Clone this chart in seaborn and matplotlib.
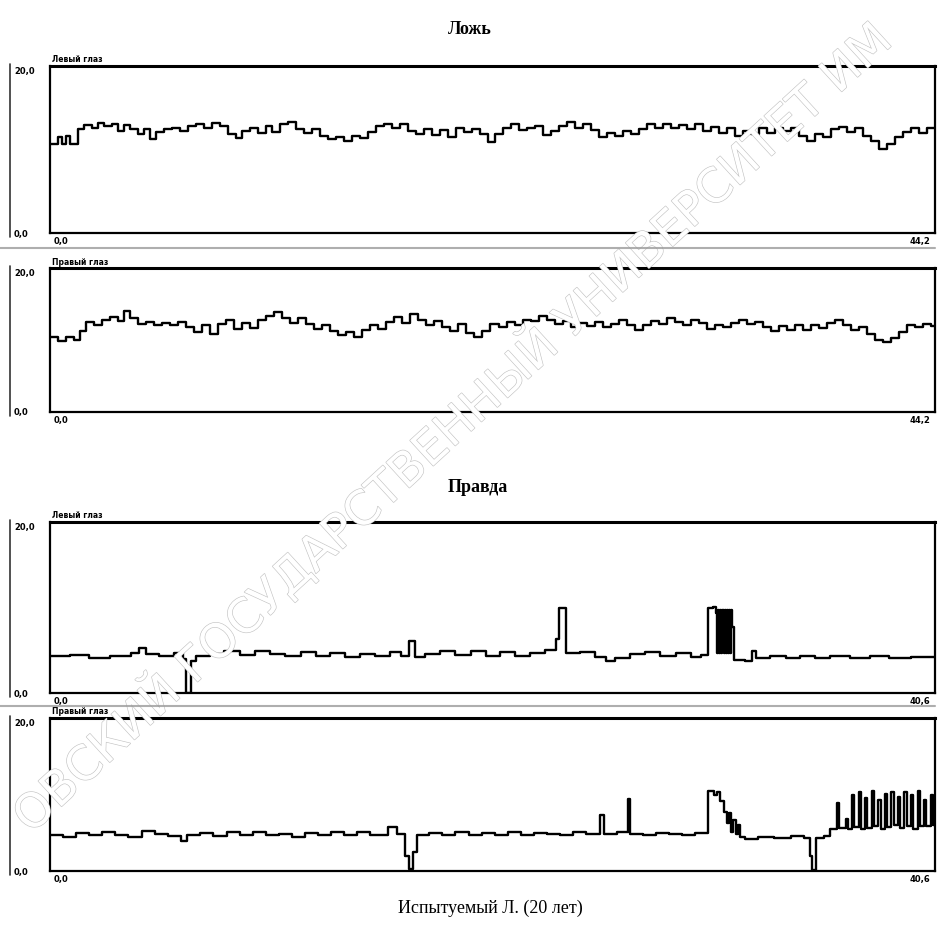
import numpy as np
import pandas as pd
import matplotlib
matplotlib.use("Agg")
import matplotlib.pyplot as plt
import matplotlib.patheffects as pe
from matplotlib.lines import Line2D
import seaborn as sns

sns.set_theme(style="white")
plt.rcParams['font.family'] = ['DejaVu Sans']
plt.rcParams['text.color'] = 'black'
plt.rcParams['ytick.color'] = 'black'
plt.rcParams['ytick.labelcolor'] = 'black'

# ---------------- data ----------------
lie_left_t = [0.0, 0.4, 0.6, 0.8, 1.0, 1.4, 1.7, 2.1, 2.4, 2.7, 3.1, 3.4, 3.7, 4.0, 4.4, 4.7, 5.0, 5.3, 5.7, 6.1,
              6.5, 6.9, 7.3, 7.7, 8.1, 8.5, 8.9, 9.3, 9.6, 10.0, 10.4, 10.8, 11.1, 11.5, 11.9, 12.3, 12.7, 13.1,
              13.5, 13.9, 14.3, 14.7, 15.1, 15.5, 15.9, 16.3, 16.7, 17.1, 17.5, 17.9, 18.3, 18.7, 19.1, 19.5,
              19.9, 20.3, 20.7, 21.1, 21.5, 21.9, 22.2, 22.6, 23.0, 23.4, 23.8, 24.2, 24.6, 25.0, 25.4, 25.8,
              26.2, 26.6, 27.0, 27.4, 27.8, 28.2, 28.6, 29.0, 29.4, 29.8, 30.2, 30.6, 31.0, 31.4, 31.8, 32.2,
              32.6, 33.0, 33.4, 33.8, 34.2, 34.6, 35.0, 35.4, 35.8, 36.2, 36.6, 37.0, 37.4, 37.8, 38.2, 38.6,
              39.0, 39.4, 39.8, 40.2, 40.6, 41.0, 41.4, 41.8, 42.2, 42.6, 43.0, 43.4, 43.8, 44.2]
lie_left_v = [11.0, 11.8, 11.0, 12.0, 11.0, 12.8, 13.3, 13.0, 13.6, 13.2, 13.5, 12.6, 13.3, 12.8, 12.2, 12.8, 11.6,
              12.4, 12.8, 13.0, 12.6, 13.2, 13.4, 13.0, 13.6, 13.2, 12.2, 11.7, 12.6, 12.9, 12.3, 13.2, 12.5,
              13.4, 13.7, 12.8, 12.3, 12.8, 12.0, 11.6, 11.9, 11.4, 12.0, 11.7, 12.4, 13.2, 13.5, 12.9, 13.4,
              12.6, 12.2, 12.8, 12.1, 12.7, 11.8, 12.9, 12.4, 12.8, 12.2, 11.2, 12.2, 13.0, 13.4, 12.7, 12.9,
              13.2, 12.1, 12.6, 13.2, 13.7, 12.9, 13.5, 12.7, 11.8, 12.3, 12.0, 12.6, 12.2, 12.8, 13.4, 12.9,
              13.5, 13.0, 13.3, 12.8, 13.4, 12.6, 13.1, 12.3, 12.9, 12.0, 12.6, 12.2, 12.9, 12.3, 13.0, 12.6,
              12.9, 12.0, 11.4, 12.2, 11.8, 12.8, 13.1, 12.4, 12.9, 12.0, 11.4, 10.4, 11.0, 11.8, 12.5, 13.0,
              12.3, 13.0, 13.0]

lie_right_t = [0.0, 0.4, 0.8, 1.2, 1.5, 1.8, 2.2, 2.6, 3.0, 3.4, 3.7, 4.0, 4.4, 4.8, 5.2, 5.6, 6.0, 6.4, 6.8,
               7.2, 7.6, 8.0, 8.4, 8.8, 9.2, 9.6, 10.0, 10.4, 10.8, 11.2, 11.6, 12.0, 12.4, 12.8, 13.2, 13.6,
               14.0, 14.4, 14.8, 15.2, 15.6, 16.0, 16.4, 16.8, 17.2, 17.6, 18.0, 18.4, 18.8, 19.2, 19.6, 20.0,
               20.4, 20.8, 21.2, 21.6, 22.0, 22.4, 22.8, 23.2, 23.6, 24.0, 24.4, 24.8, 25.2, 25.6, 26.0, 26.4,
               26.8, 27.2, 27.6, 28.0, 28.4, 28.8, 29.2, 29.6, 30.0, 30.4, 30.8, 31.2, 31.6, 32.0, 32.4, 32.8,
               33.2, 33.6, 34.0, 34.4, 34.8, 35.2, 35.6, 36.0, 36.4, 36.8, 37.2, 37.6, 38.0, 38.4, 38.8, 39.2,
               39.6, 40.0, 40.4, 40.8, 41.2, 41.6, 42.0, 42.4, 42.8, 43.2, 43.6, 44.0, 44.2]
lie_right_v = [10.7, 10.2, 10.8, 10.3, 11.6, 12.9, 12.5, 13.2, 13.6, 13.0, 14.5, 13.4, 12.6, 12.9, 12.4, 12.8,
               12.5, 12.9, 12.2, 11.5, 12.4, 11.2, 12.6, 13.1, 11.9, 12.7, 12.0, 13.2, 13.8, 14.3, 13.5, 12.8,
               13.4, 12.6, 11.9, 12.4, 11.6, 11.0, 11.5, 10.8, 11.8, 12.5, 11.9, 12.9, 13.6, 12.8, 14.0, 13.2,
               12.4, 13.0, 12.2, 11.6, 12.6, 11.3, 10.8, 11.6, 12.6, 12.1, 12.9, 12.4, 13.2, 13.0, 13.8, 13.2,
               12.6, 13.0, 12.1, 12.8, 12.3, 12.9, 12.2, 12.6, 13.2, 12.5, 11.8, 12.4, 13.0, 12.6, 13.4, 12.9,
               12.4, 13.1, 12.7, 11.9, 12.5, 12.1, 12.8, 13.2, 12.6, 12.9, 12.2, 11.6, 12.3, 11.8, 12.5, 11.7,
               12.4, 12.0, 12.8, 13.1, 12.4, 11.8, 12.2, 11.2, 10.3, 10.0, 10.6, 11.5, 12.4, 12.1, 12.6, 12.3,
               12.3]

truth_left_t = [0.0, 0.9, 1.8, 2.75, 3.7, 4.1, 4.4, 5.0, 5.7, 6.1, 6.25, 6.45, 6.7, 7.35, 8.0, 8.7, 9.4,
                10.1, 10.8, 11.5, 12.2, 12.85, 13.55, 14.2, 14.9, 15.6, 16.1, 16.45, 16.75, 17.2, 17.9, 18.6,
                19.3, 20.0, 20.65, 21.35, 22.0, 22.7, 23.2, 23.35, 23.65, 24.3, 25.0, 25.5, 25.9, 26.6, 27.3,
                28.0, 28.7, 29.4, 29.85, 30.2, 30.4, 30.55, 30.6, 30.65, 30.7, 30.75, 30.8, 30.85, 30.9, 30.95,
                31.0, 31.05, 31.1, 31.15, 31.2, 31.25, 31.3, 31.4, 31.9, 32.2, 32.4, 33.05, 33.75, 34.4, 35.1,
                35.8, 36.7, 37.6, 38.5, 39.5, 40.6]
truth_left_v = [4.4, 4.6, 4.2, 4.5, 4.8, 5.4, 4.7, 4.5, 4.8, 4.1, 0.0, 3.9, 4.4, 4.7, 5.0, 4.6, 5.1, 4.7, 4.4,
                4.9, 4.5, 4.8, 4.3, 4.7, 4.5, 4.9, 4.4, 6.3, 4.3, 4.7, 5.0, 4.6, 5.0, 4.5, 4.9, 4.4, 4.8, 5.2,
                6.5, 10.2, 4.8, 4.9, 4.3, 3.9, 4.2, 4.7, 4.9, 4.4, 4.8, 4.3, 4.6, 10.2, 10.4, 9.6, 4.8, 10.0,
                4.8, 10.0, 4.8, 10.0, 4.8, 10.0, 4.8, 10.0, 4.8, 10.0, 4.8, 10.0, 8.0, 4.0, 3.9, 5.1, 4.2, 4.4,
                4.2, 4.5, 4.2, 4.5, 4.2, 4.4, 4.2, 4.3, 4.3]

truth_right_t = [0.0, 0.6, 1.2, 1.8, 2.4, 3.0, 3.6, 4.2, 4.8, 5.4, 6.0, 6.3, 6.9, 7.5, 8.1, 8.7, 9.3, 9.9,
                 10.5, 11.1, 11.7, 12.3, 12.9, 13.5, 14.1, 14.7, 15.5, 15.9, 16.3, 16.45, 16.65, 16.85, 17.4,
                 18.0, 18.6, 19.2, 19.8, 20.4, 21.0, 21.6, 22.2, 22.8, 23.4, 24.0, 24.6, 25.25, 25.4, 26.0,
                 26.5, 26.6, 27.2, 27.8, 28.4, 29.0, 29.6, 30.2, 30.45, 30.6, 30.75, 30.9, 31.05, 31.15, 31.25,
                 31.35, 31.45, 31.55, 31.65, 31.9, 32.5, 33.2, 34.0, 34.6, 34.85, 34.95, 35.15, 35.5, 35.8,
                 36.1, 36.2, 36.5, 36.6, 36.8, 36.9, 37.1, 37.2, 37.4, 37.5, 37.7, 37.8, 38.0, 38.1, 38.3,
                 38.4, 38.6, 38.7, 38.9, 39.0, 39.2, 39.3, 39.5, 39.6, 39.8, 39.9, 40.1, 40.2, 40.4, 40.5, 40.6]
truth_right_v = [4.9, 4.6, 5.1, 4.8, 5.3, 4.9, 4.6, 5.4, 5.0, 4.7, 4.0, 4.8, 5.1, 4.7, 5.2, 4.9, 5.3, 4.8,
                 5.0, 4.6, 5.1, 4.8, 5.2, 4.9, 5.3, 4.8, 5.9, 5.0, 2.0, 0.3, 2.5, 4.8, 5.1, 4.9, 5.2, 4.8, 5.1,
                 4.9, 5.2, 4.8, 5.1, 5.0, 4.9, 5.2, 5.0, 7.5, 5.0, 5.3, 9.7, 5.0, 4.9, 5.1, 5.0, 4.9, 5.1, 10.8,
                 10.2, 10.7, 9.4, 8.0, 6.5, 7.8, 5.2, 6.8, 5.0, 6.2, 4.6, 4.3, 4.6, 4.5, 4.7, 4.5, 2.0, 0.2, 4.4,
                 4.7, 5.6, 9.2, 5.8, 7.0, 5.7, 10.2, 5.9, 10.6, 5.6, 9.8, 5.8, 10.8, 6.0, 9.5, 5.7, 10.4, 5.9,
                 10.7, 6.2, 9.9, 5.8, 10.6, 6.0, 10.2, 5.7, 10.8, 6.1, 9.6, 6.0, 10.3, 6.2, 6.2]

panel_labels = ["Левый глаз", "Правый глаз", "Левый глаз", "Правый глаз"]
x_end_labels = ["44,2", "44,2", "40,6", "40,6"]
x_max = [44.2, 44.2, 40.6, 40.6]
y_tick_labels = ["0,0", "20,0"]
titles = ["Ложь", "Правда"]
caption = "Испытуемый Л. (20 лет)"

# ---------------- figure ----------------
W, H = 939, 933
fig = plt.figure(figsize=(W / 100, H / 100), dpi=100)
fig.patch.set_facecolor("white")

def fy(px):
    return 1 - px / H

def fx(px):
    return px / W

# watermark (behind everything)
wm = fig.text(fx(452), fy(428), "ОВСКИЙ ГОСУДАРСТВЕННЫЙ УНИВЕРСИТЕТ ИМ",
              fontsize=34, color="white", rotation=42.5, ha="center", va="center",
              family=["DejaVu Sans"], zorder=0)
wm.set_path_effects([pe.withStroke(linewidth=0.9, foreground="#c4c4c4")])

boxes = [(66, 233), (268, 412), (522, 693), (718, 871)]
left_px, right_px = 50, 935
series = [(lie_left_t, lie_left_v), (lie_right_t, lie_right_v),
          (truth_left_t, truth_left_v), (truth_right_t, truth_right_v)]

for i, ((top, bot), (t, v)) in enumerate(zip(boxes, series)):
    ax = fig.add_axes([fx(left_px), fy(bot), fx(right_px - left_px), (bot - top) / H])
    ax.patch.set_alpha(0.0)
    df = pd.DataFrame({"t": t, "v": v})
    sns.lineplot(data=df, x="t", y="v", ax=ax, color="black", linewidth=1.7,
                 drawstyle="steps-post", estimator=None, sort=False)
    ax.set_xlim(0, x_max[i])
    ax.set_ylim(0, 20.6)
    ax.set_xlabel("")
    ax.set_ylabel("")
    ax.set_xticks([])
    ax.set_yticks([0, 20])
    ax.set_yticklabels(y_tick_labels, fontsize=6, fontweight="bold", ha="left")
    ax.tick_params(axis="y", length=0, pad=26)
    for s in ax.spines.values():
        s.set_color("black")
        s.set_linewidth(1.6)
    ax.spines["top"].set_linewidth(2.2)
    ax.text(0.002, 1.01, panel_labels[i], transform=ax.transAxes, fontsize=5.5,
            fontweight="bold", ha="left", va="bottom")
    ax.annotate("0,0", xy=(0.004, 0), xycoords="axes fraction", xytext=(0, -3),
                textcoords="offset points", fontsize=6, fontweight="bold", ha="left", va="top")
    ax.annotate(x_end_labels[i], xy=(0.995, 0), xycoords="axes fraction", xytext=(0, -3),
                textcoords="offset points", fontsize=6, fontweight="bold", ha="right", va="top")
    fig.add_artist(Line2D([fx(10), fx(10)], [fy(top - 2), fy(bot + 4)], color="#333333",
                          linewidth=1.2))

for ypx in (248, 706):
    fig.add_artist(Line2D([fx(0), fx(935)], [fy(ypx), fy(ypx)], color="#9a9a9a",
                          linewidth=1.5, alpha=0.8))

serif = ["Liberation Serif", "DejaVu Serif"]
fig.text(fx(470), fy(30), titles[0], family=serif, fontsize=13, fontweight="bold",
         ha="center", va="center", color="black")
fig.text(fx(478), fy(488), titles[1], family=serif, fontsize=13, fontweight="bold",
         ha="center", va="center", color="black")
fig.text(fx(490), fy(908), caption, family=serif, fontsize=13, ha="center", va="center",
         color="black")

fig.savefig("out.png", dpi=100, facecolor="white")
